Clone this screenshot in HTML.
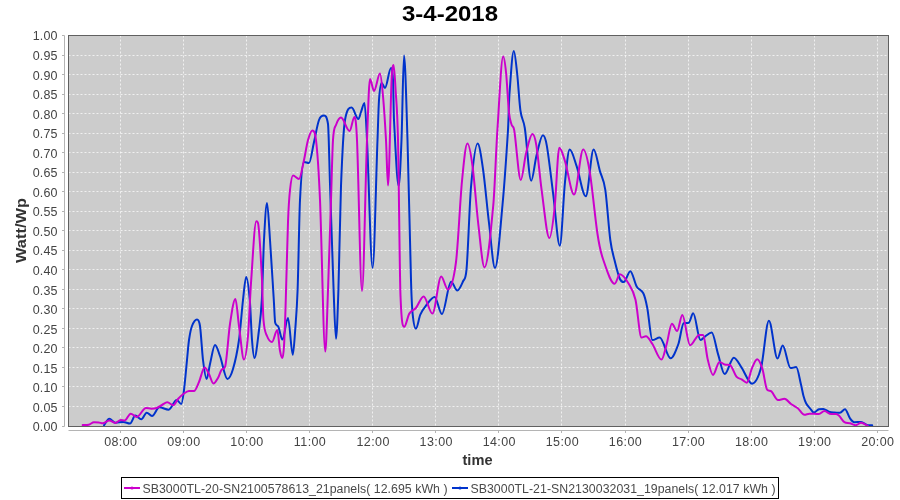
<!DOCTYPE html><html><head><meta charset="utf-8"><style>html,body{margin:0;padding:0;background:#fff;}svg{display:block;will-change:transform;}text{font-family:"Liberation Sans",sans-serif;}</style></head><body>
<svg width="900" height="500" viewBox="0 0 900 500">
<rect x="0" y="0" width="900" height="500" fill="#fff"/>
<defs><clipPath id="pc"><rect x="69" y="36" width="819" height="390"/></clipPath></defs>
<rect x="68.5" y="35.5" width="820" height="391" fill="#cccccc"/>
<path d="M68.5 406.50H888 M68.5 386.50H888 M68.5 367.50H888 M68.5 347.50H888 M68.5 328.50H888 M68.5 308.50H888 M68.5 289.50H888 M68.5 269.50H888 M68.5 250.50H888 M68.5 230.50H888 M68.5 211.50H888 M68.5 191.50H888 M68.5 172.50H888 M68.5 152.50H888 M68.5 133.50H888 M68.5 113.50H888 M68.5 94.50H888 M68.5 74.50H888 M68.5 55.50H888 M120.50 35.5V426 M183.50 35.5V426 M246.50 35.5V426 M309.50 35.5V426 M372.50 35.5V426 M435.50 35.5V426 M498.50 35.5V426 M561.50 35.5V426 M625.50 35.5V426 M688.50 35.5V426 M751.50 35.5V426 M814.50 35.5V426 M877.50 35.5V426" stroke="#fff" stroke-width="1" stroke-dasharray="2 2" fill="none" opacity="0.7"/>
<g fill="none" stroke-width="2" stroke-linejoin="round" stroke-linecap="round" clip-path="url(#pc)">
<path d="M104.0 425.3 C105.77 423.10 107.53 418.70 109.3 418.7 C111.30 418.70 113.30 422.70 115.3 422.7 C117.97 422.70 120.63 422.00 123.3 422.0 C125.53 422.00 127.77 423.60 130.0 423.6 C131.77 423.60 133.53 415.60 135.3 415.6 C137.30 415.60 139.30 419.30 141.3 419.3 C143.10 419.30 144.90 412.70 146.7 412.7 C148.47 412.70 150.23 416.00 152.0 416.0 C154.43 416.00 156.87 407.30 159.3 407.3 C162.43 407.30 165.57 409.70 168.7 409.7 C171.37 409.70 174.03 400.00 176.7 400.0 C178.23 400.00 179.77 404.00 181.3 404.0 C182.20 404.00 183.10 396.95 184.0 390.0 C185.00 382.28 186.00 370.00 187.0 360.0 C187.67 353.33 188.33 344.53 189.0 340.0 C190.00 333.20 191.00 328.56 192.0 326.0 C193.67 321.73 195.33 319.50 197.0 319.5 C198.00 319.50 199.00 319.50 200.0 326.0 C201.00 332.50 202.00 351.97 203.0 360.0 C204.20 369.64 205.40 379.00 206.6 379.0 C207.73 379.00 208.87 368.59 210.0 364.0 C211.67 357.25 213.33 345.00 215.0 345.0 C216.67 345.00 218.33 351.43 220.0 356.0 C222.47 362.76 224.93 379.00 227.4 379.0 C229.27 379.00 231.13 375.28 233.0 369.0 C235.00 362.28 237.00 353.80 239.0 340.0 C240.33 330.80 241.67 311.67 243.0 300.0 C244.07 290.67 245.13 277.00 246.2 277.0 C247.40 277.00 248.60 286.97 249.8 300.0 C250.53 307.97 251.27 330.75 252.0 340.0 C252.80 350.09 253.60 358.00 254.4 358.0 C255.93 358.00 257.47 342.02 259.0 330.0 C259.93 322.68 260.87 316.80 261.8 300.0 C262.53 286.80 263.27 253.68 264.0 240.0 C265.00 221.35 266.00 203.00 267.0 203.0 C268.00 203.00 269.00 225.74 270.0 240.0 C271.27 258.07 272.53 279.83 273.8 300.0 C274.27 307.43 274.73 321.05 275.2 322.8 C276.27 326.80 277.33 324.31 278.4 326.8 C279.73 329.91 281.07 339.60 282.4 339.6 C284.27 339.60 286.13 318.00 288.0 318.0 C289.60 318.00 291.20 354.80 292.8 354.8 C293.60 354.80 294.40 340.80 295.2 330.0 C296.00 319.20 296.80 311.67 297.6 290.0 C298.40 268.33 299.20 216.00 300.0 200.0 C301.33 173.33 302.67 162.00 304.0 162.0 C305.67 162.00 307.33 163.00 309.0 163.0 C310.67 163.00 312.33 149.17 314.0 142.0 C315.67 134.83 317.33 124.40 319.0 120.0 C320.67 115.60 322.33 115.60 324.0 115.6 C325.33 115.60 326.67 115.60 328.0 124.0 C328.67 128.20 329.33 164.24 330.0 184.0 C331.20 219.57 332.40 259.04 333.6 290.0 C334.40 310.64 335.20 338.80 336.0 338.8 C336.80 338.80 337.60 314.45 338.4 290.0 C339.27 263.51 340.13 208.32 341.0 186.0 C342.33 151.66 343.67 127.52 345.0 120.0 C347.20 107.60 349.40 107.60 351.6 107.6 C353.87 107.60 356.13 119.00 358.4 119.0 C359.27 119.00 360.13 114.27 361.0 112.0 C362.17 108.94 363.33 103.00 364.5 103.0 C365.33 103.00 366.17 123.02 367.0 140.0 C368.87 178.02 370.73 268.00 372.6 268.0 C374.23 268.00 375.87 182.87 377.5 140.0 C378.00 126.87 378.50 106.95 379.0 100.0 C379.87 87.95 380.73 83.00 381.6 83.0 C382.73 83.00 383.87 88.00 385.0 88.0 C387.00 88.00 389.00 68.00 391.0 68.0 C391.67 68.00 392.33 68.44 393.0 80.0 C393.33 85.78 393.67 113.80 394.0 120.0 C395.57 149.13 397.13 186.00 398.7 186.0 C399.63 186.00 400.57 162.96 401.5 140.0 C402.33 119.50 403.17 55.60 404.0 55.6 C405.17 55.60 406.33 102.60 407.5 140.0 C408.67 177.40 409.83 240.29 411.0 280.0 C411.53 298.15 412.07 308.31 412.6 313.6 C413.70 324.51 414.80 328.60 415.9 328.6 C417.37 328.60 418.83 318.06 420.3 314.7 C422.13 310.50 423.97 308.17 425.8 305.9 C428.73 302.27 431.67 297.00 434.6 297.0 C437.03 297.00 439.47 314.00 441.9 314.0 C444.97 314.00 448.03 281.70 451.1 281.7 C453.17 281.70 455.23 290.50 457.3 290.5 C459.27 290.50 461.23 285.47 463.2 281.0 C464.30 278.50 465.40 281.00 466.5 269.6 C468.00 254.05 469.50 204.04 471.0 187.0 C473.20 162.01 475.40 143.50 477.6 143.5 C479.40 143.50 481.20 156.45 483.0 169.0 C485.00 182.95 487.00 206.50 489.0 223.0 C491.00 239.50 493.00 268.00 495.0 268.0 C497.50 268.00 500.00 231.54 502.5 205.0 C504.33 185.54 506.17 159.23 508.0 130.0 C508.47 122.56 508.93 101.36 509.4 95.0 C510.87 75.02 512.33 51.00 513.8 51.0 C514.90 51.00 516.00 63.10 517.1 73.0 C518.20 82.90 519.30 102.54 520.4 110.4 C521.87 120.88 523.33 118.45 524.8 128.0 C526.93 141.89 529.07 180.70 531.2 180.7 C532.93 180.70 534.67 162.74 536.4 156.0 C538.57 147.57 540.73 135.20 542.9 135.2 C544.20 135.20 545.50 138.13 546.8 145.6 C548.97 158.06 551.13 178.32 553.3 195.0 C555.47 211.68 557.63 245.70 559.8 245.7 C561.53 245.70 563.27 198.84 565.0 182.0 C566.57 166.78 568.13 149.50 569.7 149.5 C572.03 149.50 574.37 159.62 576.7 166.4 C579.73 175.22 582.77 196.30 585.8 196.3 C588.40 196.30 591.00 149.50 593.6 149.5 C595.77 149.50 597.93 164.14 600.1 171.6 C601.83 177.57 603.57 178.18 605.3 189.8 C606.97 200.98 608.63 227.41 610.3 240.0 C611.77 251.08 613.23 254.84 614.7 260.8 C616.43 267.84 618.17 274.94 619.9 279.0 C621.20 282.04 622.50 282.10 623.8 282.1 C625.97 282.10 628.13 271.20 630.3 271.2 C632.47 271.20 634.63 283.12 636.8 286.8 C638.97 290.48 641.13 288.97 643.3 293.3 C644.60 295.90 645.90 300.91 647.2 307.6 C648.93 316.51 650.67 340.10 652.4 340.1 C654.83 340.10 657.27 337.50 659.7 337.5 C663.33 337.50 666.97 358.30 670.6 358.3 C673.20 358.30 675.80 351.02 678.4 344.0 C680.13 339.32 681.87 323.70 683.6 323.2 C685.33 322.70 687.07 323.20 688.8 322.7 C690.27 322.28 691.73 313.30 693.2 313.3 C695.63 313.30 698.07 340.10 700.5 340.1 C702.07 340.10 703.63 337.46 705.2 336.4 C707.37 334.93 709.53 332.50 711.7 332.5 C713.87 332.50 716.03 347.67 718.2 354.6 C720.37 361.53 722.53 374.10 724.7 374.1 C727.73 374.10 730.77 357.70 733.8 357.7 C736.40 357.70 739.00 363.89 741.6 367.6 C745.07 372.55 748.53 383.70 752.0 383.7 C755.03 383.70 758.07 378.89 761.1 367.6 C763.70 357.92 766.30 320.80 768.9 320.8 C771.77 320.80 774.63 358.50 777.5 358.5 C779.23 358.50 780.97 345.50 782.7 345.5 C785.30 345.50 787.90 368.10 790.5 368.1 C792.40 368.10 794.30 367.10 796.2 367.1 C797.83 367.10 799.47 378.53 801.1 385.0 C801.90 388.17 802.70 393.07 803.5 396.0 C804.37 399.17 805.23 401.66 806.1 403.3 C807.40 405.76 808.70 406.75 810.0 408.3 C811.30 409.85 812.60 412.60 813.9 412.6 C815.57 412.60 817.23 409.54 818.9 409.2 C820.37 408.90 821.83 408.90 823.3 408.9 C825.17 408.90 827.03 411.08 828.9 411.7 C830.73 412.31 832.57 412.42 834.4 412.6 C836.27 412.78 838.13 412.80 840.0 412.8 C841.67 412.80 843.33 409.20 845.0 409.2 C846.67 409.20 848.33 416.00 850.0 418.3 C851.47 420.33 852.93 422.20 854.4 422.2 C856.63 422.20 858.87 421.90 861.1 421.9 C863.33 421.90 865.57 425.20 867.8 425.2 C869.27 425.20 870.73 425.20 872.2 425.2" stroke="#0033cc"/>
<path d="M82.7 425.1 C84.70 424.97 86.70 425.10 88.7 424.7 C90.47 424.35 92.23 422.30 94.0 422.3 C95.57 422.30 97.13 422.30 98.7 422.4 C100.03 422.49 101.37 423.30 102.7 423.3 C104.90 423.30 107.10 420.40 109.3 420.4 C111.30 420.40 113.30 423.00 115.3 423.0 C117.10 423.00 118.90 420.00 120.7 420.0 C122.03 420.00 123.37 420.40 124.7 420.4 C126.70 420.40 128.70 413.70 130.7 413.7 C132.70 413.70 134.70 417.00 136.7 417.0 C139.80 417.00 142.90 408.00 146.0 408.0 C147.77 408.00 149.53 408.70 151.3 408.7 C153.10 408.70 154.90 408.62 156.7 408.0 C158.47 407.39 160.23 405.95 162.0 405.0 C163.77 404.05 165.53 402.30 167.3 402.3 C169.30 402.30 171.30 405.30 173.3 405.3 C174.87 405.30 176.43 400.77 178.0 399.0 C179.77 397.00 181.53 395.28 183.3 394.0 C185.20 392.62 187.10 391.00 189.0 391.0 C190.67 391.00 192.33 391.00 194.0 391.0 C195.67 391.00 197.33 385.68 199.0 382.0 C200.87 377.88 202.73 367.60 204.6 367.6 C206.07 367.60 207.53 371.33 209.0 374.0 C210.47 376.67 211.93 383.60 213.4 383.6 C214.93 383.60 216.47 380.61 218.0 378.0 C219.13 376.07 220.27 371.78 221.4 370.0 C222.60 368.11 223.80 370.00 225.0 367.0 C226.67 362.83 228.33 334.90 230.0 324.0 C231.80 312.23 233.60 299.00 235.4 299.0 C236.60 299.00 237.80 317.54 239.0 326.0 C240.67 337.74 242.33 359.60 244.0 359.6 C245.33 359.60 246.67 350.59 248.0 336.0 C249.00 325.06 250.00 296.82 251.0 283.0 C252.77 258.59 254.53 221.30 256.3 221.3 C256.87 221.30 257.43 221.30 258.0 223.0 C259.27 226.80 260.53 253.66 261.8 276.0 C262.37 285.99 262.93 313.46 263.5 320.0 C264.67 333.46 265.83 332.98 267.0 336.0 C268.67 340.31 270.33 342.00 272.0 342.0 C273.77 342.00 275.53 330.00 277.3 330.0 C278.20 330.00 279.10 345.86 280.0 350.8 C280.80 355.19 281.60 358.00 282.4 358.0 C282.93 358.00 283.47 354.67 284.0 346.0 C284.53 337.33 285.07 322.53 285.6 306.0 C286.40 281.20 287.20 243.09 288.0 222.0 C288.67 204.42 289.33 196.19 290.0 190.0 C291.00 180.72 292.00 175.60 293.0 175.6 C295.00 175.60 297.00 179.00 299.0 179.0 C300.67 179.00 302.33 167.22 304.0 160.0 C305.33 154.22 306.67 144.70 308.0 140.0 C309.47 134.83 310.93 130.40 312.4 130.4 C313.60 130.40 314.80 130.40 316.0 140.0 C317.33 150.67 318.67 169.66 320.0 200.0 C321.77 240.20 323.53 351.60 325.3 351.6 C326.20 351.60 327.10 313.94 328.0 290.0 C329.00 263.40 330.00 230.00 331.0 200.0 C331.67 180.00 332.33 150.00 333.0 140.0 C334.00 125.00 335.00 127.80 336.0 125.0 C337.67 120.33 339.33 117.60 341.0 117.6 C343.87 117.60 346.73 131.00 349.6 131.0 C351.20 131.00 352.80 117.00 354.4 117.0 C355.27 117.00 356.13 120.16 357.0 140.0 C358.67 178.16 360.33 291.00 362.0 291.0 C363.67 291.00 365.33 184.17 367.0 140.0 C368.00 113.50 369.00 79.00 370.0 79.0 C371.33 79.00 372.67 91.00 374.0 91.0 C376.00 91.00 378.00 73.60 380.0 73.6 C381.00 73.60 382.00 84.93 383.0 96.0 C384.00 107.07 385.00 122.12 386.0 140.0 C386.67 151.92 387.33 185.40 388.0 185.4 C389.20 185.40 390.40 105.80 391.6 80.0 C392.27 65.67 392.93 65.00 393.6 65.0 C394.27 65.00 394.93 78.64 395.6 90.0 C396.40 103.64 397.20 106.37 398.0 140.0 C398.83 175.03 399.67 275.19 400.5 296.0 C401.73 326.80 402.97 326.80 404.2 326.8 C405.90 326.80 407.60 316.33 409.3 313.6 C411.50 310.06 413.70 310.65 415.9 308.0 C418.47 304.91 421.03 296.40 423.6 296.4 C426.53 296.40 429.47 313.60 432.4 313.6 C435.33 313.60 438.27 276.60 441.2 276.6 C443.40 276.60 445.60 289.40 447.8 289.4 C450.53 289.40 453.27 282.87 456.0 262.0 C458.00 246.73 460.00 201.79 462.0 181.0 C463.80 162.29 465.60 143.50 467.4 143.5 C469.10 143.50 470.80 153.36 472.5 166.0 C474.50 180.86 476.50 209.10 478.5 226.0 C480.50 242.90 482.50 267.40 484.5 267.4 C487.43 267.40 490.37 236.24 493.3 205.0 C494.67 190.44 496.03 150.50 497.4 130.0 C499.33 101.00 501.27 56.50 503.2 56.5 C504.17 56.50 505.13 63.65 506.1 73.0 C507.07 82.35 508.03 103.51 509.0 112.6 C509.87 120.75 510.73 121.77 511.6 124.7 C512.47 127.63 513.33 124.99 514.2 130.2 C516.40 143.42 518.60 180.00 520.8 180.0 C522.53 180.00 524.27 160.21 526.0 153.4 C528.17 144.88 530.33 134.00 532.5 134.0 C533.80 134.00 535.10 137.63 536.4 145.6 C538.13 156.23 539.87 177.48 541.6 189.8 C544.20 208.28 546.80 238.00 549.4 238.0 C551.13 238.00 552.87 223.81 554.6 208.0 C556.17 193.71 557.73 147.70 559.3 147.7 C561.20 147.70 563.10 155.19 565.0 161.2 C568.03 170.79 571.07 194.50 574.1 194.5 C577.13 194.50 580.17 149.50 583.2 149.5 C585.37 149.50 587.53 158.80 589.7 171.6 C592.30 186.96 594.90 216.91 597.5 234.0 C599.33 246.05 601.17 253.70 603.0 259.0 C606.90 270.27 610.80 283.70 614.7 283.7 C616.43 283.70 618.17 274.30 619.9 274.3 C622.93 274.30 625.97 279.24 629.0 284.2 C631.17 287.74 633.33 290.56 635.5 299.8 C637.50 308.33 639.50 337.50 641.5 337.5 C642.97 337.50 644.43 336.20 645.9 336.2 C648.07 336.20 650.23 340.75 652.4 344.0 C655.43 348.55 658.47 359.60 661.5 359.6 C663.23 359.60 664.97 349.98 666.7 344.0 C668.43 338.02 670.17 323.70 671.9 323.7 C673.63 323.70 675.37 331.00 677.1 331.0 C678.83 331.00 680.57 314.90 682.3 314.9 C684.90 314.90 687.50 345.30 690.1 345.3 C693.13 345.30 696.17 334.90 699.2 334.9 C700.50 334.90 701.80 334.90 703.1 335.1 C704.67 335.34 706.23 353.50 707.8 359.8 C709.53 366.77 711.27 374.90 713.0 374.9 C715.17 374.90 717.33 361.90 719.5 361.9 C721.23 361.90 722.97 364.00 724.7 364.5 C726.43 365.00 728.17 364.50 729.9 365.0 C732.07 365.62 734.23 374.05 736.4 376.7 C738.13 378.82 739.87 378.30 741.6 379.3 C743.33 380.30 745.07 382.70 746.8 382.7 C748.53 382.70 750.27 372.00 752.0 368.1 C753.73 364.20 755.47 359.30 757.2 359.3 C758.93 359.30 760.67 363.58 762.4 368.9 C763.97 373.71 765.53 387.78 767.1 389.7 C768.57 391.50 770.03 390.10 771.5 391.5 C773.67 393.57 775.83 400.10 778.0 400.1 C780.17 400.10 782.33 398.80 784.5 398.8 C786.67 398.80 788.83 402.45 791.0 404.0 C793.27 405.62 795.53 406.47 797.8 408.3 C800.00 410.07 802.20 414.80 804.4 414.8 C806.07 414.80 807.73 413.70 809.4 413.7 C811.07 413.70 812.73 413.70 814.4 413.7 C815.90 413.70 817.40 414.10 818.9 414.1 C820.73 414.10 822.57 411.10 824.4 411.1 C826.63 411.10 828.87 414.10 831.1 414.1 C832.60 414.10 834.10 414.10 835.6 414.1 C836.70 414.10 837.80 414.59 838.9 415.6 C840.73 417.29 842.57 421.12 844.4 422.2 C846.27 423.30 848.13 422.80 850.0 423.3 C851.87 423.80 853.73 425.20 855.6 425.2 C857.43 425.20 859.27 422.80 861.1 422.8 C863.33 422.80 865.57 424.87 867.8 425.9" stroke="#cc00cc"/>
</g>
<rect x="68.5" y="35.5" width="820" height="391" fill="none" stroke="#606060" stroke-width="1"/>
<path d="M64.5 35.5V426.5 M62 426.50H64.5 M62 406.50H64.5 M62 386.50H64.5 M62 367.50H64.5 M62 347.50H64.5 M62 328.50H64.5 M62 308.50H64.5 M62 289.50H64.5 M62 269.50H64.5 M62 250.50H64.5 M62 230.50H64.5 M62 211.50H64.5 M62 191.50H64.5 M62 172.50H64.5 M62 152.50H64.5 M62 133.50H64.5 M62 113.50H64.5 M62 94.50H64.5 M62 74.50H64.5 M62 55.50H64.5 M62 35.50H64.5 M68.5 430.5H888.5 M120.50 430.5V433 M183.50 430.5V433 M246.50 430.5V433 M309.50 430.5V433 M372.50 430.5V433 M435.50 430.5V433 M498.50 430.5V433 M561.50 430.5V433 M625.50 430.5V433 M688.50 430.5V433 M751.50 430.5V433 M814.50 430.5V433 M877.50 430.5V433" stroke="#b4b4b4" stroke-width="1" fill="none"/>
<text x="57.7" y="431.40" text-anchor="end" font-size="12.5" letter-spacing="0.15" fill="#444">0.00</text>
<text x="57.7" y="411.85" text-anchor="end" font-size="12.5" letter-spacing="0.15" fill="#444">0.05</text>
<text x="57.7" y="392.30" text-anchor="end" font-size="12.5" letter-spacing="0.15" fill="#444">0.10</text>
<text x="57.7" y="372.75" text-anchor="end" font-size="12.5" letter-spacing="0.15" fill="#444">0.15</text>
<text x="57.7" y="353.20" text-anchor="end" font-size="12.5" letter-spacing="0.15" fill="#444">0.20</text>
<text x="57.7" y="333.65" text-anchor="end" font-size="12.5" letter-spacing="0.15" fill="#444">0.25</text>
<text x="57.7" y="314.10" text-anchor="end" font-size="12.5" letter-spacing="0.15" fill="#444">0.30</text>
<text x="57.7" y="294.55" text-anchor="end" font-size="12.5" letter-spacing="0.15" fill="#444">0.35</text>
<text x="57.7" y="275.00" text-anchor="end" font-size="12.5" letter-spacing="0.15" fill="#444">0.40</text>
<text x="57.7" y="255.45" text-anchor="end" font-size="12.5" letter-spacing="0.15" fill="#444">0.45</text>
<text x="57.7" y="235.90" text-anchor="end" font-size="12.5" letter-spacing="0.15" fill="#444">0.50</text>
<text x="57.7" y="216.35" text-anchor="end" font-size="12.5" letter-spacing="0.15" fill="#444">0.55</text>
<text x="57.7" y="196.80" text-anchor="end" font-size="12.5" letter-spacing="0.15" fill="#444">0.60</text>
<text x="57.7" y="177.25" text-anchor="end" font-size="12.5" letter-spacing="0.15" fill="#444">0.65</text>
<text x="57.7" y="157.70" text-anchor="end" font-size="12.5" letter-spacing="0.15" fill="#444">0.70</text>
<text x="57.7" y="138.15" text-anchor="end" font-size="12.5" letter-spacing="0.15" fill="#444">0.75</text>
<text x="57.7" y="118.60" text-anchor="end" font-size="12.5" letter-spacing="0.15" fill="#444">0.80</text>
<text x="57.7" y="99.05" text-anchor="end" font-size="12.5" letter-spacing="0.15" fill="#444">0.85</text>
<text x="57.7" y="79.50" text-anchor="end" font-size="12.5" letter-spacing="0.15" fill="#444">0.90</text>
<text x="57.7" y="59.95" text-anchor="end" font-size="12.5" letter-spacing="0.15" fill="#444">0.95</text>
<text x="57.7" y="40.40" text-anchor="end" font-size="12.5" letter-spacing="0.15" fill="#444">1.00</text>
<text x="120.80" y="446.4" text-anchor="middle" font-size="12.5" letter-spacing="0.4" fill="#444">08:00</text>
<text x="183.88" y="446.4" text-anchor="middle" font-size="12.5" letter-spacing="0.4" fill="#444">09:00</text>
<text x="246.97" y="446.4" text-anchor="middle" font-size="12.5" letter-spacing="0.4" fill="#444">10:00</text>
<text x="310.05" y="446.4" text-anchor="middle" font-size="12.5" letter-spacing="0.4" fill="#444">11:00</text>
<text x="373.13" y="446.4" text-anchor="middle" font-size="12.5" letter-spacing="0.4" fill="#444">12:00</text>
<text x="436.22" y="446.4" text-anchor="middle" font-size="12.5" letter-spacing="0.4" fill="#444">13:00</text>
<text x="499.30" y="446.4" text-anchor="middle" font-size="12.5" letter-spacing="0.4" fill="#444">14:00</text>
<text x="562.38" y="446.4" text-anchor="middle" font-size="12.5" letter-spacing="0.4" fill="#444">15:00</text>
<text x="625.47" y="446.4" text-anchor="middle" font-size="12.5" letter-spacing="0.4" fill="#444">16:00</text>
<text x="688.55" y="446.4" text-anchor="middle" font-size="12.5" letter-spacing="0.4" fill="#444">17:00</text>
<text x="751.63" y="446.4" text-anchor="middle" font-size="12.5" letter-spacing="0.4" fill="#444">18:00</text>
<text x="814.72" y="446.4" text-anchor="middle" font-size="12.5" letter-spacing="0.4" fill="#444">19:00</text>
<text x="877.80" y="446.4" text-anchor="middle" font-size="12.5" letter-spacing="0.4" fill="#444">20:00</text>
<text x="477.5" y="465" text-anchor="middle" font-size="14.5" font-weight="bold" fill="#333" textLength="30" lengthAdjust="spacingAndGlyphs">time</text>
<text transform="translate(26,230.5) rotate(-90)" x="0" y="0" text-anchor="middle" font-size="14.5" font-weight="bold" fill="#333" textLength="65" lengthAdjust="spacingAndGlyphs">Watt/Wp</text>
<text x="450" y="21" text-anchor="middle" font-size="22" font-weight="bold" fill="#000" textLength="96" lengthAdjust="spacingAndGlyphs">3-4-2018</text>
<rect x="121.5" y="477.5" width="657" height="21" fill="#fff" stroke="#000" stroke-width="1"/>
<path d="M124 488H140" stroke="#cc00cc" stroke-width="2"/><circle cx="132" cy="488" r="1.6" fill="#cc00cc"/>
<path d="M452 488H468" stroke="#0033cc" stroke-width="2"/><circle cx="460" cy="488" r="1.6" fill="#0033cc"/>
<text x="142.5" y="493" font-size="12.3" fill="#4a4a4a" textLength="305" lengthAdjust="spacing">SB3000TL-20-SN2100578613_21panels( 12.695 kWh )</text>
<text x="470.5" y="493" font-size="12.3" fill="#4a4a4a" textLength="305" lengthAdjust="spacing">SB3000TL-21-SN2130032031_19panels( 12.017 kWh )</text>
</svg></body></html>
